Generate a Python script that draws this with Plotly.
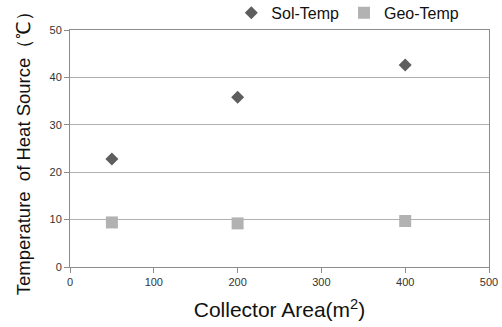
import plotly.graph_objects as go

collector_area = [50, 200, 400]
sol_temp = [22.8, 35.8, 42.6]
geo_temp = [9.4, 9.2, 9.7]
x_ticks = [0, 100, 200, 300, 400, 500]
y_ticks = [0, 10, 20, 30, 40, 50]

fig = go.Figure()
fig.add_trace(go.Scatter(x=collector_area, y=sol_temp, mode="markers", name="Sol-Temp",
                         marker=dict(symbol="diamond", size=10, color="#5e5e5e")))
fig.add_trace(go.Scatter(x=collector_area, y=geo_temp, mode="markers", name="Geo-Temp",
                         marker=dict(symbol="square", size=12, color="#b2b2b2")))

fig.update_layout(
    width=502, height=327,
    margin=dict(l=70, r=13, t=30, b=60, autoexpand=False),
    paper_bgcolor="white", plot_bgcolor="white",
    font=dict(family="Liberation Sans, Arial, sans-serif", color="#222"),
    legend=dict(orientation="h", x=0.385, y=1.072, xanchor="left", yanchor="middle",
                font=dict(size=16, color="#111"), bgcolor="rgba(0,0,0,0)",
                itemwidth=30, tracegroupgap=0),
    xaxis=dict(range=[0, 500], tickvals=x_ticks, showgrid=False, zeroline=False,
               showline=True, linecolor="#8c8c8c", linewidth=1, mirror=True,
               ticks="outside", ticklen=5, tickcolor="#8c8c8c",
               tickfont=dict(size=11, color="#333"),
               title=dict(text="Collector Area(m<sup>2</sup>)", font=dict(size=21, color="#111"), standoff=15)),
    yaxis=dict(range=[0, 50], tickvals=y_ticks, showgrid=True, gridcolor="#b0b0b0", gridwidth=1,
               zeroline=False, showline=True, linecolor="#8c8c8c", linewidth=1, mirror=True,
               ticks="outside", ticklen=5, tickcolor="#8c8c8c",
               tickfont=dict(size=11, color="#333"),
               title=dict(text="Temperature  of Heat Source（℃）", font=dict(size=18.5, color="#111"), standoff=14)),
)

fig.write_html("out.html")
